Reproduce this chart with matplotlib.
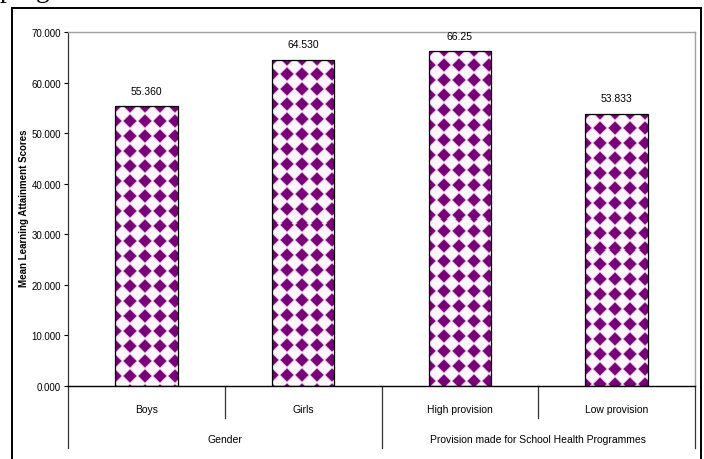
import numpy as np
import matplotlib.pyplot as plt
from matplotlib.patches import Rectangle

categories = ['Boys', 'Girls', 'High provision', 'Low provision']
scores = [55.360, 64.530, 66.25, 53.833]
score_labels = ['55.360', '64.530', '66.25', '53.833']
groups = ['Gender', 'Provision made for School Health Programmes']
group_sizes = [2, 2]
yticks = [0, 10, 20, 30, 40, 50, 60, 70]

narrow = ['Liberation Sans Narrow', 'Liberation Sans', 'DejaVu Sans']
plt.rcParams['font.family'] = narrow

W, H = 704, 460
fig = plt.figure(figsize=(W / 100, H / 100), dpi=100)
ax = fig.add_axes([68 / W, 73 / H, 627 / W, 354 / H])

x = np.arange(len(categories))
bars = ax.bar(x, scores, width=0.40, facecolor='none', edgecolor='black',
              linewidth=0.9, zorder=3)

ax.set_xlim(-0.5, len(categories) - 0.5)
ax.set_ylim(0, 70)


def diamond_texture(wpx, hpx):
    # purple diamonds on white, like the excel fill pattern
    px = np.arange(wpx) + 0.5
    py = np.arange(hpx) + 0.5
    X, Y = np.meshgrid(px, py)
    per = 15.0
    dx = ((X + per / 2) % per) - per / 2
    dy = ((Y + per / 2) % per) - per / 2
    d = np.abs(dx) + np.abs(dy)
    purple = np.array([0.47, 0.0, 0.47])
    lav = np.array([0.85, 0.66, 0.85])
    white = np.array([0.99, 0.97, 0.99])
    t1 = np.clip((d - 5.8) / 1.2, 0, 1)[..., None]
    t2 = np.clip((d - 7.0) / 1.2, 0, 1)[..., None]
    col = purple * (1 - t1) + lav * t1
    col = col * (1 - t2) + white * t2
    return col


for b in bars:
    x0, y0 = b.get_x(), 0
    x1, y1 = b.get_x() + b.get_width(), b.get_height()
    p0 = ax.transData.transform((x0, y0))
    p1 = ax.transData.transform((x1, y1))
    wpx = max(int(round(p1[0] - p0[0])), 1)
    hpx = max(int(round(p1[1] - p0[1])), 1)
    im = ax.imshow(diamond_texture(wpx, hpx), extent=(x0, x1, y0, y1),
                   aspect='auto', interpolation='nearest', zorder=2)
    im.set_clip_path(b)

ax.set_xlim(-0.5, len(categories) - 0.5)
ax.set_ylim(0, 70)

for xi, v, lab in zip(x, scores, score_labels):
    ax.annotate(lab, (xi, v), xytext=(0, 11), textcoords='offset points',
                ha='center', va='center', fontsize=7.5)

ax.set_yticks(yticks)
ax.set_yticklabels(['%.3f' % t for t in yticks], fontsize=7)
ax.tick_params(axis='y', direction='out', length=3, width=0.8, pad=2)
ax.set_xticks([])

for s in ['top', 'right']:
    ax.spines[s].set_color('#a0a0a0')
    ax.spines[s].set_linewidth(1.0)
ax.spines['left'].set_color('#333333')
ax.spines['bottom'].set_color('black')
ax.spines['left'].set_linewidth(0.9)
ax.spines['bottom'].set_linewidth(1.0)

# category axis labels, two levels
trans = ax.get_xaxis_transform()
for xi, cat in zip(x, categories):
    ax.text(xi, -0.065, cat, transform=trans, ha='center', va='center',
            fontsize=7.5)

start = -0.5
for g, n in zip(groups, group_sizes):
    ax.text(start + n / 2, -0.150, g, transform=trans, ha='center',
            va='center', fontsize=7.5)
    for k in range(1, n):
        ax.plot([start + k, start + k], [0, -0.090], transform=trans,
                color='#333333', lw=0.9, clip_on=False)
    start += n
edge = -0.5
ax.plot([edge, edge], [0, -0.175], transform=trans, color='#333333',
        lw=0.9, clip_on=False)
for n in group_sizes:
    edge += n
    ax.plot([edge, edge], [0, -0.175], transform=trans, color='#333333',
            lw=0.9, clip_on=False)

fig.text(24 / W, 1 - 208 / H, 'Mean Learning Attainment Scores',
         rotation=90, ha='center', va='center', fontsize=7,
         fontweight='bold')

# chart frame, bottom edge is cut off in the source
fig.add_artist(Rectangle((12 / W, -0.02), (701 - 12) / W, 1 - 9 / H + 0.02,
                         transform=fig.transFigure, fill=False,
                         edgecolor='black', linewidth=1.4))

# bit of document text above the chart
fig.text(0 / W, 1 + 3 / H, 'programmes', family=['Liberation Serif'],
         fontsize=20, va='baseline', ha='left')

fig.savefig('out.png', dpi=100)
